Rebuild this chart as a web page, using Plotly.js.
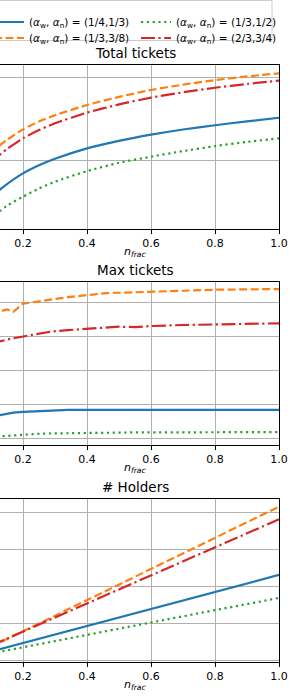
<!DOCTYPE html>
<html><head><meta charset="utf-8">
<script src="https://cdn.plot.ly/plotly-3.0.1.min.js"></script>
<style>
html,body{margin:0;padding:0;overflow:hidden;width:290px;height:700px;background:#fff}
#chart{position:absolute;left:-60px;top:0;width:350px;height:700px}
</style>
</head><body><div id="chart"></div><script>
// ---- data ----
const seriesNames = [
  "(<i>α</i><sub>w</sub>, <i>α</i><sub>n</sub>) = (1/4,1/3)",
  "(<i>α</i><sub>w</sub>, <i>α</i><sub>n</sub>) = (1/3,3/8)",
  "(<i>α</i><sub>w</sub>, <i>α</i><sub>n</sub>) = (1/3,1/2)",
  "(<i>α</i><sub>w</sub>, <i>α</i><sub>n</sub>) = (2/3,3/4)"
];
const panelTitles = ["Total tickets", "Max tickets", "# Holders"];
const xLabel = "<i>n</i><sub><i>frac</i></sub>";
const xTickVals = [0.2, 0.4, 0.6, 0.8, 1.0];
const xTickText = ["0.2", "0.4", "0.6", "0.8", "1.0"];

const xTotal = [0.1, 0.13, 0.15, 0.2, 0.25, 0.3, 0.4, 0.5, 0.6, 0.7, 0.8, 0.9, 1.0];
const totBlue   = [0.55, 0.66, 0.72, 0.848, 0.945, 1.023, 1.148, 1.238, 1.312, 1.374, 1.425, 1.472, 1.515];
const totOrange = [1.08, 1.192, 1.25, 1.376, 1.469, 1.546, 1.667, 1.765, 1.848, 1.912, 1.966, 2.01, 2.048];
const totGreen  = [0.30, 0.40, 0.46, 0.568, 0.667, 0.748, 0.875, 0.975, 1.048, 1.115, 1.175, 1.225, 1.268];
const totRed    = [0.97, 1.08, 1.14, 1.268, 1.367, 1.449, 1.576, 1.675, 1.756, 1.82, 1.875, 1.92, 1.96];

const xMax = [0.1, 0.13, 0.15, 0.17, 0.2, 0.23, 0.25, 0.29, 0.34, 0.4, 0.44, 0.47, 0.5, 0.55, 0.6, 0.7, 0.8, 0.9, 1.0];
const maxBlue   = [0.62, 0.685, 0.72, 0.75, 0.77, 0.79, 0.80, 0.81, 0.83, 0.83, 0.82, 0.835, 0.835, 0.835, 0.835, 0.83, 0.835, 0.83, 0.83];
const maxOrange = [3.65, 3.74, 3.79, 3.72, 3.96, 4.00, 4.03, 4.09, 4.15, 4.21, 4.24, 4.28, 4.28, 4.29, 4.31, 4.34, 4.37, 4.38, 4.39];
const maxGreen  = [0.03, 0.05, 0.06, 0.08, 0.10, 0.12, 0.125, 0.135, 0.145, 0.155, 0.16, 0.16, 0.165, 0.165, 0.165, 0.17, 0.17, 0.175, 0.175];
const maxRed    = [2.78, 2.86, 2.90, 2.94, 2.99, 3.05, 3.08, 3.14, 3.18, 3.22, 3.26, 3.27, 3.28, 3.27, 3.30, 3.33, 3.34, 3.37, 3.38];

const xHold = [0.1, 0.2, 0.3, 0.4, 0.5, 0.6, 0.7, 0.8, 0.9, 1.0];
const holdBlue   = [0.25, 0.48, 0.72, 0.96, 1.18, 1.41, 1.64, 1.87, 2.10, 2.32];
const holdOrange = [0.38, 0.80, 1.22, 1.64, 2.06, 2.48, 2.90, 3.32, 3.74, 4.16];
const holdGreen  = [0.20, 0.37, 0.54, 0.70, 0.87, 1.04, 1.20, 1.37, 1.53, 1.70];
const holdRed    = [0.41, 0.80, 1.17, 1.55, 1.93, 2.30, 2.68, 3.06, 3.44, 3.82];

// ---- styles ----
const FONT = "DejaVu Sans";
const colors = ["#1f77b4", "#ff7f0e", "#2ca02c", "#d62728"];
const dashes = ["solid", "8px,3.5px", "2.2px,3.6px", "14px,3.5px,2.2px,3.5px"];
const legendIds = ["legend", "legend2", "legend3", "legend4"];

const panels = [
  {x: xTotal, ys: [totBlue, totOrange, totGreen, totRed], shape: "spline"},
  {x: xMax, ys: [maxBlue, maxOrange, maxGreen, maxRed], shape: "linear"},
  {x: xHold, ys: [holdBlue, holdOrange, holdGreen, holdRed], shape: "linear"}
];

const traces = [];
panels.forEach((p, pi) => {
  const sfx = pi === 0 ? "" : String(pi + 1);
  p.ys.forEach((y, si) => {
    traces.push({
      type: "scatter", mode: "lines", x: p.x, y: y,
      xaxis: "x" + sfx, yaxis: "y" + sfx,
      name: seriesNames[si],
      line: {color: colors[si], width: 2.2, dash: dashes[si], shape: p.shape, smoothing: 0.6},
      showlegend: pi === 0,
      legend: legendIds[si],
      hoverinfo: "skip"
    });
  });
});

// page-pixel helpers (plot area spans page x [-9,279], paper y spans page [0,662])
const PX0 = -9, PW = 288, PH = 662;
const px = v => (v - PX0) / PW;
const py = v => 1 - v / PH;

const xBase = {
  range: [0.1, 1.0], tickvals: xTickVals, ticktext: xTickText,
  showgrid: true, gridcolor: "#b0b0b0", gridwidth: 1, zeroline: false,
  showline: true, mirror: true, linecolor: "#000", linewidth: 1,
  ticks: "outside", ticklen: 4, tickwidth: 1, tickcolor: "#000",
  tickfont: {family: FONT, size: 11, color: "#000"}
};
const yBase = {
  showgrid: true, gridcolor: "#b0b0b0", gridwidth: 1, zeroline: false,
  showline: true, mirror: true, linecolor: "#000", linewidth: 1,
  ticks: "outside", ticklen: 4, tickcolor: "#000", showticklabels: false
};

const panelPix = [[64.7, 229], [281.7, 444.7], [499.3, 662]];
const yRanges = [[0.181, 2.151], [-0.197, 4.606], [-0.03, 4.36]];
const yTicks = [[1, 2], [0, 1, 2, 3, 4], [0, 1, 2, 3, 4]];

const layout = {
  width: 350, height: 700,
  margin: {l: 51, r: 11, t: 0, b: 38, autoexpand: false},
  paper_bgcolor: "#fff", plot_bgcolor: "#fff",
  font: {family: FONT, size: 11, color: "#000"},
  annotations: [], shapes: []
};
panelPix.forEach((pp, i) => {
  const sfx = i === 0 ? "" : String(i + 1);
  layout["xaxis" + sfx] = Object.assign({}, xBase, {anchor: "y" + sfx, domain: [0, 1]});
  layout["yaxis" + sfx] = Object.assign({}, yBase, {
    anchor: "x" + sfx, domain: [py(pp[1]), py(pp[0])],
    range: yRanges[i], tickvals: yTicks[i]
  });
  layout.annotations.push({
    text: panelTitles[i], xref: "paper", yref: "paper",
    x: px(135), y: py(pp[0] - 12), xanchor: "center", yanchor: "middle",
    showarrow: false, font: {family: FONT, size: 13.5, color: "#000"}
  });
  layout.annotations.push({
    text: xLabel, xref: "paper", yref: "paper",
    x: px(135), y: py(pp[1] + 14), xanchor: "center", yanchor: "top",
    showarrow: false, font: {family: FONT, size: 11, color: "#000"}
  });
});

// legend frame
layout.shapes.push({
  type: "rect", xref: "paper", yref: "paper",
  x0: px(-20), x1: px(272), y0: py(40.5), y1: py(0.5),
  line: {color: "#cccccc", width: 1}, fillcolor: "rgba(255,255,255,0.9)", layer: "above"
});
const legPos = [[-11, 7.5], [-11, 23.5], [136, 7.5], [136, 23.5]];
legendIds.forEach((id, i) => {
  layout[id] = {
    x: px(legPos[i][0]), y: py(legPos[i][1]), xanchor: "left", yanchor: "top",
    bgcolor: "rgba(0,0,0,0)", borderwidth: 0,
    font: {family: FONT, size: 10.5, color: "#000"}
  };
});

Plotly.newPlot("chart", traces, layout, {displayModeBar: false, staticPlot: true});
</script></body></html>
